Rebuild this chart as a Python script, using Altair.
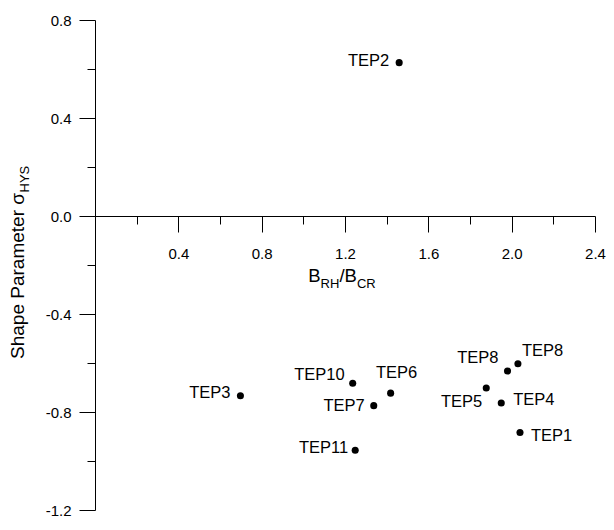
import altair as alt
import pandas as pd

# ---- data ----
labels = ["TEP1", "TEP2", "TEP3", "TEP4", "TEP5", "TEP6", "TEP7", "TEP8", "TEP8", "TEP10", "TEP11"]
x_vals = [2.040, 1.460, 0.698, 1.950, 1.878, 1.419, 1.338, 1.980, 2.030, 1.237, 1.249]
y_vals = [-0.884, 0.626, -0.734, -0.763, -0.702, -0.723, -0.774, -0.633, -0.603, -0.683, -0.956]

x_major = [0.4, 0.8, 1.2, 1.6, 2.0, 2.4]
x_minor = [0.2, 0.6, 1.0, 1.4, 1.8, 2.2]
y_major = [-1.2, -0.8, -0.4, 0.0, 0.4, 0.8]
y_minor = [-1.0, -0.6, -0.2, 0.2, 0.6]

# label placement relative to each point (styling)
lab_align = ["left", "right", "right", "left", "right", "center", "right", "right", "left", "right", "right"]
lab_dx = [11, -10, -10, 12, -4, 6, -9, -9, 4, -8, -7]
lab_dy = [3, -2, -3, -3, 14, -20, 0, -13, -13, -8, -2]

FONT = "Liberation Sans"
W, H = 500, 490
Y0 = 0.8 / 2.0 * H          # pixel row of y = 0 inside the plot
X_AXIS_OFFSET = -(H - Y0)

df = pd.DataFrame({"idx": list(range(len(labels))), "label": labels, "x": x_vals, "y": y_vals})

x_scale = alt.Scale(domain=[0, 2.4], nice=False, zero=False)
y_scale = alt.Scale(domain=[-1.2, 0.8], nice=False, zero=False)

lab_expr = "(datum.value < -0.001 ? '-' : '') + format(abs(datum.value), '.1f')"

common = dict(tickColor="black", domainColor="black", tickWidth=1, domainWidth=1,
              labelFont=FONT, labelFontSize=15, labelColor="black",
              labelFlush=False, labelOverlap=False, title=None, grid=False)

x_axis = alt.Axis(values=x_major, orient="bottom", offset=X_AXIS_OFFSET, tickSize=16,
                  labelExpr=lab_expr, labelPadding=14, **common)
y_axis = alt.Axis(values=y_major, orient="left", tickSize=16, labelExpr=lab_expr,
                  labelPadding=8, **common)
x_axis_minor = alt.Axis(values=x_minor, orient="bottom", offset=X_AXIS_OFFSET, tickSize=8,
                        labels=False, domain=False, tickColor="black", tickWidth=1,
                        title=None, grid=False)
y_axis_minor = alt.Axis(values=y_minor, orient="left", tickSize=8, labels=False,
                        domain=False, tickColor="black", tickWidth=1, title=None, grid=False)

base = alt.Chart(df)
points = base.mark_circle(size=50, color="black", opacity=1).encode(
    x=alt.X("x:Q", scale=x_scale, axis=x_axis),
    y=alt.Y("y:Q", scale=y_scale, axis=y_axis),
)
minor = base.mark_circle(size=1, opacity=0).encode(
    x=alt.X("x:Q", scale=x_scale, axis=x_axis_minor),
    y=alt.Y("y:Q", scale=y_scale, axis=y_axis_minor),
)

layers = []
for i in range(len(labels)):
    layers.append(
        base.transform_filter(alt.datum.idx == i).mark_text(
            align=lab_align[i], baseline="middle", dx=lab_dx[i], dy=lab_dy[i],
            font=FONT, fontSize=16.5, color="black"
        ).encode(
            x=alt.X("x:Q", scale=x_scale, axis=None),
            y=alt.Y("y:Q", scale=y_scale, axis=None),
            text="label:N",
        )
    )


def txt(s, x, y, size, **kw):
    return alt.Chart(pd.DataFrame({"t": [s]})).mark_text(
        font=FONT, fontSize=size, color="black", **kw
    ).encode(x=alt.value(x), y=alt.value(y), text="t:N")


# x title  B_RH / B_CR (placed under the x axis labels)
tb = Y0 + 66
layers += [
    txt("B", 213.3, tb, 18.5, align="left", baseline="alphabetic"),
    txt("RH", 225.6, tb + 6, 13, align="left", baseline="alphabetic"),
    txt("/", 244.4, tb, 18.5, align="left", baseline="alphabetic"),
    txt("B", 249.5, tb, 18.5, align="left", baseline="alphabetic"),
    txt("CR", 261.9, tb + 6, 13, align="left", baseline="alphabetic"),
]
# y title  Shape Parameter σ_HYS
ty = H / 2 - 72
layers += [
    txt("Shape Parameter σ", -71, ty, 19, align="right", baseline="alphabetic", angle=270),
    txt("HYS", -66.5, ty - 0.5, 13, align="left", baseline="alphabetic", angle=270),
]

chart = alt.layer(points, minor, *layers).resolve_axis(
    x="independent", y="independent"
).properties(
    width=W, height=H,
    autosize=alt.AutoSizeParams(type="none"),
    padding={"left": 87, "top": 12, "right": 11, "bottom": 8},
).configure_view(stroke=None)

chart.save("out.html", embed_options={"renderer": "svg", "actions": False})
